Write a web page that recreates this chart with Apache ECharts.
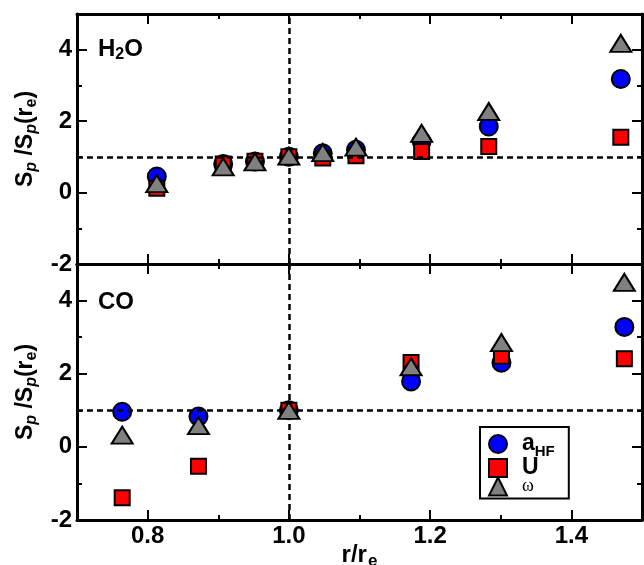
<!DOCTYPE html>
<html>
<head>
<meta charset="utf-8">
<script src="https://cdn.jsdelivr.net/npm/echarts@6/dist/echarts.min.js"></script>
<style>
    html, body { margin: 0; padding: 0; background: #fff; }
    #chart { width: 644px; height: 565px; }
</style>
</head>
<body>
<div id="chart"></div>
<script>
    // ticks
    const xMajor = [0.8, 1.0, 1.2, 1.4];
    const xMinor = [0.9, 1.1, 1.3];
    const yMajor = [-2, 0, 2, 4];
    const yMinor = [-1, 1, 3];

    // H2O panel
    const h2oR = [0.813, 0.907, 0.952, 1.0, 1.048, 1.095, 1.188, 1.283, 1.47];
    const h2oAhf = [0.45, 0.8, 0.87, 1.0, 1.1, 1.2, 1.43, 1.85, 3.18];
    const h2oU = [0.12, 0.8, 0.88, 1.0, 0.97, 1.03, 1.15, 1.29, 1.55];
    const h2oW = [0.25, 0.72, 0.86, 1.02, 1.12, 1.27, 1.66, 2.27, 4.18];

    // CO panel
    const coR = [0.764, 0.872, 1.0, 1.173, 1.301, 1.475];
    const coAhf = [0.96, 0.83, 1.0, 1.79, 2.3, 3.28];
    const coU = [-1.39, -0.53, 1.0, 2.31, 2.48, 2.41];
    const coW = [0.32, 0.58, 1.0, 2.19, 2.85, 4.5];

    const FONT = "'Liberation Sans', Arial, sans-serif";
    const chart = echarts.init(document.getElementById('chart'));

    function xAx(grid, pos, vals, len, major, labels, name) {
        return {
            type: 'value', gridIndex: grid, position: pos, min: 0.7, max: 1.5,
            name: name || '', nameLocation: 'middle', nameGap: 20, nameMoveOverlap: false,
            nameTextStyle: {
                color: '#000', fontFamily: FONT, fontWeight: 'bold',
                rich: {
                    b: { fontSize: 24, fontWeight: 'bold', fontFamily: FONT, color: '#000' },
                    e: { fontSize: 17, fontWeight: 'bold', fontFamily: FONT, color: '#000', padding: [13, 0, 0, 1] }
                }
            },
            axisLine: { show: major, onZero: false, lineStyle: { color: '#000', width: 3 } },
            axisTick: { show: true, inside: true, length: len, customValues: vals, lineStyle: { color: '#000', width: 2 } },
            axisLabel: {
                show: labels, customValues: vals, margin: 4,
                color: '#000', fontSize: 24, fontWeight: 'bold', fontFamily: FONT,
                formatter: v => v.toFixed(1)
            },
            splitLine: { show: false }
        };
    }

    function yAx(grid, pos, vals, len, major, labels, name) {
        return {
            type: 'value', gridIndex: grid, position: pos, min: -2, max: 5,
            name: name || '', nameLocation: 'middle', nameGap: 37, nameRotate: 90,
            nameTextStyle: {
                color: '#000', fontFamily: FONT,
                rich: {
                    s: { fontSize: 23, fontWeight: 'bold', fontFamily: FONT, color: '#000' },
                    p: { fontSize: 16, fontStyle: 'italic', fontWeight: 'bold', fontFamily: FONT, color: '#000', padding: [12, 0, 0, 0] },
                    e: { fontSize: 16, fontWeight: 'bold', fontFamily: FONT, color: '#000', padding: [12, 0, 0, 0] }
                }
            },
            axisLine: { show: major, onZero: false, lineStyle: { color: '#000', width: 3 } },
            axisTick: { show: true, inside: true, length: len, customValues: vals, lineStyle: { color: '#000', width: 2 } },
            axisLabel: {
                show: labels, customValues: vals, margin: 5,
                color: '#000', fontSize: 24, fontWeight: 'bold', fontFamily: FONT
            },
            splitLine: { show: false }
        };
    }

    const yName = '{s|S}{p|p}{s| /S}{p|p}{s|(r}{e|e}{s|)}';

    let xAxes = [], yAxes = [];
    [0, 1].forEach(g => {
        xAxes.push(xAx(g, 'bottom', xMajor, 10, true, g === 1, g === 1 ? '{b|r/r}{e|e}' : ''));
        xAxes.push(xAx(g, 'bottom', xMinor, 5, false, false));
        xAxes.push(xAx(g, 'top', xMajor, 10, true, false));
        xAxes.push(xAx(g, 'top', xMinor, 5, false, false));
        yAxes.push(yAx(g, 'left', yMajor, 10, true, true, yName));
        yAxes.push(yAx(g, 'left', yMinor, 5, false, false));
        yAxes.push(yAx(g, 'right', yMajor, 10, true, false));
        yAxes.push(yAx(g, 'right', yMinor, 5, false, false));
    });

    const marks = [
        { name: 'a_HF', symbol: 'circle', size: 18, color: '#0000ff' },
        { name: 'U', symbol: 'rect', size: 15, color: '#ff0000' },
        { name: 'ω', symbol: 'triangle', size: [21, 17], color: '#808080' }
    ];

    let series = [];
    [[h2oR, [h2oAhf, h2oU, h2oW]], [coR, [coAhf, coU, coW]]].forEach((panel, g) => {
        let r = panel[0];
        series.push({
            type: 'scatter', xAxisIndex: g * 4, yAxisIndex: g * 4, data: [], z: 1, silent: true,
            markLine: {
                silent: true, symbol: 'none', label: { show: false },
                lineStyle: { color: '#000', type: [6, 4], width: 2.5 },
                data: [{ yAxis: 1 }, { xAxis: 1 }]
            }
        });
        marks.forEach((m, i) => {
            series.push({
                name: m.name, type: 'scatter', xAxisIndex: g * 4, yAxisIndex: g * 4,
                symbol: m.symbol, symbolSize: m.size, z: 3 + i,
                itemStyle: { color: m.color, borderColor: '#000', borderWidth: 2, opacity: 1 },
                data: r.map((x, k) => [x, panel[1][i][k]])
            });
        });
    });

    const option = {
        animation: false,
        grid: [
            { left: 77, right: 2, top: 14, height: 250, outerBoundsMode: 'none' },
            { left: 77, right: 2, top: 264, height: 256, outerBoundsMode: 'none' }
        ],
        xAxis: xAxes,
        yAxis: yAxes,
        legend: {
            data: ['a_HF', 'U', 'ω'],
            orient: 'vertical', left: 480, top: 427, width: 72,
            borderColor: '#000', borderWidth: 2, borderRadius: 0,
            padding: [2, 14, 2, 8], itemWidth: 18, itemHeight: 18, itemGap: -3,
            formatter: n => n === 'a_HF' ? '{a|a}{h|HF}' : (n === 'U' ? '{a|U}' : '{w|ω}'),
            textStyle: {
                lineHeight: 18,
                rich: {
                    a: { fontSize: 23, lineHeight: 18, height: 18, fontWeight: 'bold', fontFamily: FONT, color: '#000', padding: [0, 0, 0, 10] },
                    h: { fontSize: 15, lineHeight: 14, height: 14, fontWeight: 'bold', fontFamily: FONT, color: '#000', padding: [16, 0, 0, 0] },
                    w: { fontSize: 18, lineHeight: 18, height: 18, fontFamily: "'Liberation Serif', serif", color: '#000', padding: [0, 0, 0, 10] }
                }
            }
        },
        graphic: [
            {
                type: 'text', left: 98, top: 37,
                style: {
                    text: '{b|H}{s|2}{b|O}',
                    rich: {
                        b: { fontSize: 24, fontWeight: 'bold', fontFamily: FONT, fill: '#000' },
                        s: { fontSize: 16, fontWeight: 'bold', fontFamily: FONT, fill: '#000', padding: [12, 0, 0, 0] }
                    }
                }
            },
            {
                type: 'text', left: 98, top: 290,
                style: { text: 'CO', font: "bold 24px 'Liberation Sans', Arial, sans-serif", fill: '#000' }
            }
        ],
        series: series
    };

    chart.setOption(option);
</script>
</body>
</html>
